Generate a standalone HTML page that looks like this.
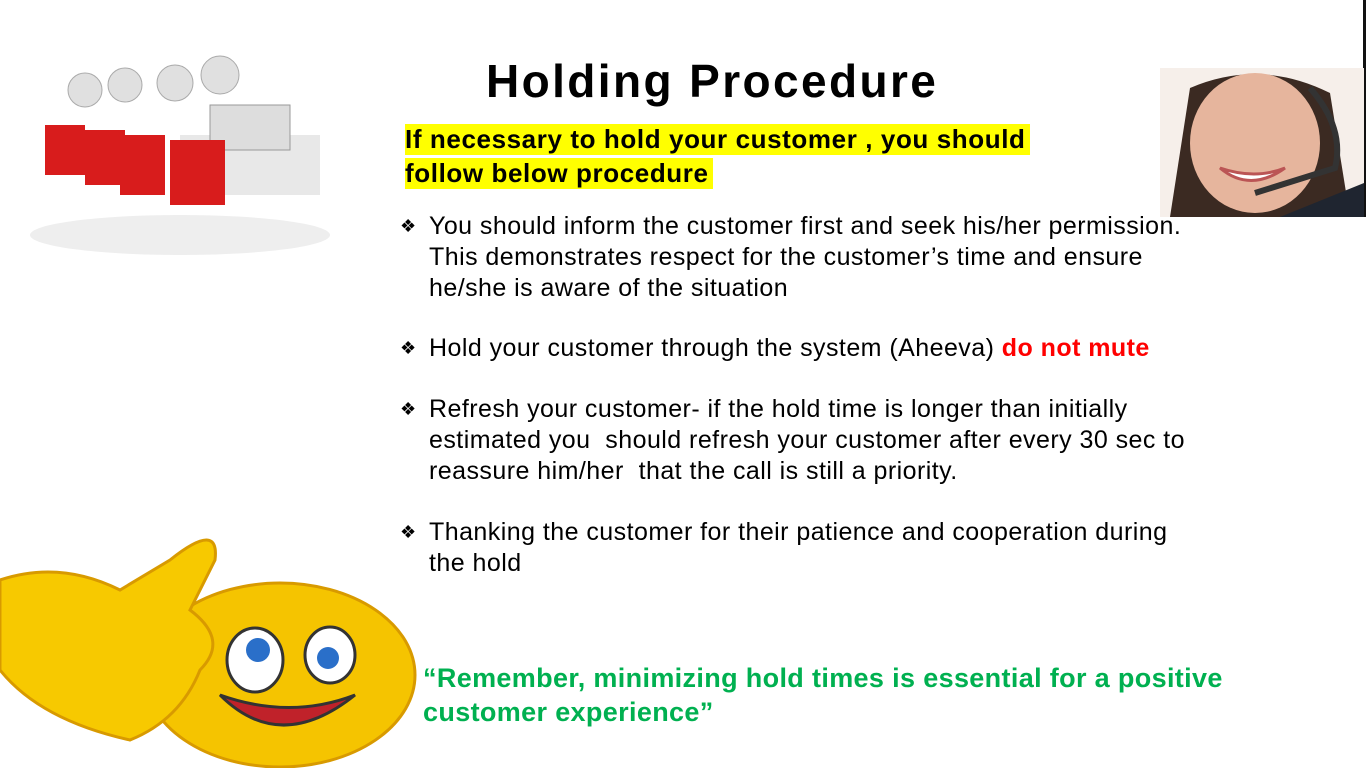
<!DOCTYPE html>
<html><head><meta charset="utf-8">
<style>
html,body{margin:0;padding:0;}
body{width:1366px;height:768px;position:relative;background:#fff;overflow:hidden;font-family:"Liberation Sans",sans-serif;color:#000;}
.abs{position:absolute;}
.title{left:486px;top:54px;font-size:46px;font-weight:bold;letter-spacing:2.4px;}
.hl{left:405px;font-size:26px;letter-spacing:0.6px;font-weight:bold;background:#ffff00;line-height:31px;padding-right:4px;}
.b{left:400px;font-size:25px;letter-spacing:0.45px;line-height:31px;white-space:nowrap;}
.b .m{position:absolute;left:0;top:0;font-size:18px;}
.b .t{margin-left:29px;display:block;}
.green{left:423px;font-size:27px;letter-spacing:0.35px;font-weight:bold;color:#00b050;line-height:34px;}
</style></head><body>
<div class="abs" style="left:1363px;top:0;width:3px;height:217px;background:#111;"></div>

<svg class="abs" style="left:20px;top:45px" width="310" height="215">
 <ellipse cx="160" cy="190" rx="150" ry="20" fill="#eee"/>
 <rect x="160" y="90" width="140" height="60" fill="#e8e8e8"/>
 <rect x="190" y="60" width="80" height="45" fill="#ddd" stroke="#999"/>
 <g fill="#d81c1c">
  <rect x="25" y="80" width="40" height="50"/><rect x="65" y="85" width="40" height="55"/>
  <rect x="100" y="90" width="45" height="60"/><rect x="150" y="95" width="55" height="65"/>
 </g>
 <g fill="#e0e0e0" stroke="#aaa">
  <circle cx="65" cy="45" r="17"/><circle cx="105" cy="40" r="17"/><circle cx="155" cy="38" r="18"/><circle cx="200" cy="30" r="19"/>
 </g>
</svg>

<div class="abs title">Holding Procedure</div>

<svg class="abs" style="left:1160px;top:68px" width="204" height="149">
 <rect width="204" height="149" fill="#f6efea"/>
 <path d="M30 20 Q100 -10 170 25 L190 149 L10 149 Z" fill="#3b2a22"/>
 <ellipse cx="95" cy="75" rx="65" ry="70" fill="#e6b59d"/>
 <path d="M60 100 Q90 125 125 100 Q95 112 60 100Z" fill="#fff" stroke="#b55" stroke-width="3"/>
 <path d="M150 20 Q185 60 175 100 L95 125" stroke="#333" stroke-width="6" fill="none"/>
 <path d="M120 149 L204 115 L204 149Z" fill="#1f2530"/>
</svg>

<div class="abs hl" style="top:124px;">If necessary to hold your customer , you should </div>
<div class="abs hl" style="top:158px;">follow below procedure</div>

<div class="abs b" style="top:211px;"><span class="m">❖</span><span class="t">You should inform the customer first and seek his/her permission.<br>This demonstrates respect for the customer’s time and ensure<br>he/she is aware of the situation</span></div>
<div class="abs b" style="top:333px;"><span class="m">❖</span><span class="t">Hold your customer through the system (Aheeva) <b style="color:#ff0000">do not mute</b></span></div>
<div class="abs b" style="top:394px;"><span class="m">❖</span><span class="t">Refresh your customer- if the hold time is longer than initially<br>estimated you&nbsp; should refresh your customer after every 30 sec to<br>reassure him/her&nbsp; that the call is still a priority.</span></div>
<div class="abs b" style="top:517px;"><span class="m">❖</span><span class="t">Thanking the customer for their patience and cooperation during<br>the hold</span></div>

<svg class="abs" style="left:0;top:520px" width="420" height="248">
 <ellipse cx="280" cy="155" rx="135" ry="92" fill="#f5c400" stroke="#d89a00" stroke-width="3"/>
 <path d="M0 60 Q60 40 120 70 L170 40 Q220 0 215 40 L190 90 Q230 120 200 150 Q180 200 130 220 Q40 200 0 150Z" fill="#f7c900" stroke="#d89a00" stroke-width="3"/>
 <ellipse cx="255" cy="140" rx="28" ry="32" fill="#fff" stroke="#333" stroke-width="3"/>
 <ellipse cx="330" cy="135" rx="25" ry="28" fill="#fff" stroke="#333" stroke-width="3"/>
 <circle cx="258" cy="130" r="12" fill="#2a6fc9"/><circle cx="328" cy="138" r="11" fill="#2a6fc9"/>
 <path d="M220 175 Q280 235 355 175 Q290 200 220 175Z" fill="#c0222a" stroke="#333" stroke-width="3"/>
</svg>

<div class="abs green" style="top:661px;">“Remember, minimizing hold times is essential for a positive<br>customer experience”</div>
</body></html>
